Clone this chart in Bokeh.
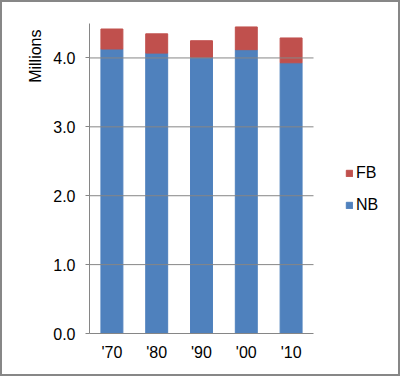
import math
from bokeh.plotting import figure
from bokeh.models import (ColumnDataSource, Range1d, FixedTicker,
                          Legend, LegendItem, Title, NumeralTickFormatter)
from bokeh.embed import file_html
from bokeh.resources import INLINE

years = ["'70", "'80", "'90", "'00", "'10"]
nb = [4.13, 4.07, 4.01, 4.12, 3.93]
fb = [0.29, 0.28, 0.24, 0.33, 0.36]
y_ticks = [0, 1, 2, 3, 4]

BLUE = "#4F81BD"
RED = "#C0504D"
GRAY = "#868686"
FONT = "Liberation Sans"

pos = list(range(1, len(years) + 1))
src = ColumnDataSource(dict(pos=pos, year=years, NB=nb, FB=fb))

# canvas coordinates (canvas sits inside a 2px CSS border)
n = len(years)
frame_left, bars_right, frame_right = 87, 311, 396
cat_px = (bars_right - frame_left) / n
x_end = 0.5 + (frame_right - frame_left) / cat_px

p = figure(width=400, height=376, output_backend="svg", toolbar_location=None,
           x_range=Range1d(0.5, x_end),
           y_range=Range1d(0, 4.5),
           min_border_left=frame_left, min_border_right=400 - frame_right,
           min_border_top=21, min_border_bottom=45)
p.styles = {"border": "2px solid #878787", "box-sizing": "border-box"}

rs = p.vbar_stack(["NB", "FB"], x="pos", width=0.49, color=[BLUE, RED], source=src)

p.outline_line_color = None
p.xgrid.grid_line_color = None
p.ygrid.grid_line_color = None
# horizontal gridlines limited to the bar area
p.segment(x0=[0.5] * (len(y_ticks) - 1), x1=[n + 0.5] * (len(y_ticks) - 1),
          y0=y_ticks[1:], y1=y_ticks[1:], line_color=GRAY, line_width=1)

p.yaxis.ticker = FixedTicker(ticks=y_ticks)
p.yaxis.formatter = NumeralTickFormatter(format="0.0")
p.yaxis.axis_line_color = GRAY
p.yaxis.major_tick_line_color = GRAY
p.yaxis.major_tick_in = 0
p.yaxis.major_tick_out = 4
p.yaxis.minor_tick_line_color = None
p.yaxis.major_label_standoff = 10

p.xaxis.ticker = FixedTicker(ticks=pos)
p.xaxis.major_label_overrides = {k: v for k, v in zip(pos, years)}
p.xaxis.bounds = (0.5, n + 0.5)
p.xaxis.axis_line_color = GRAY
p.xaxis.major_tick_line_color = None
p.xaxis.minor_tick_line_color = None
p.xaxis.major_label_standoff = 4

for ax in (p.xaxis, p.yaxis):
    ax.major_label_text_font = FONT
    ax.major_label_text_font_size = "16px"
    ax.major_label_text_color = "#000000"

ylabel = Title(text="Millions", align="right", offset=6, standoff=13,
               text_font=FONT, text_font_size="16px", text_font_style="normal",
               text_color="#000000")
p.add_layout(ylabel, "left")

legend = Legend(items=[LegendItem(label="FB", renderers=[rs[1]]),
                       LegendItem(label="NB", renderers=[rs[0]])],
                location=(256, 118), orientation="vertical",
                glyph_width=8, glyph_height=8, label_standoff=3,
                label_height=20, spacing=12, padding=0, margin=0,
                border_line_color=None, background_fill_alpha=0,
                label_text_font=FONT, label_text_font_size="16px",
                label_text_color="#000000")
p.add_layout(legend)

p.background_fill_color = "white"
p.border_fill_color = "white"

open("out.html", "w").write(file_html(p, INLINE))
